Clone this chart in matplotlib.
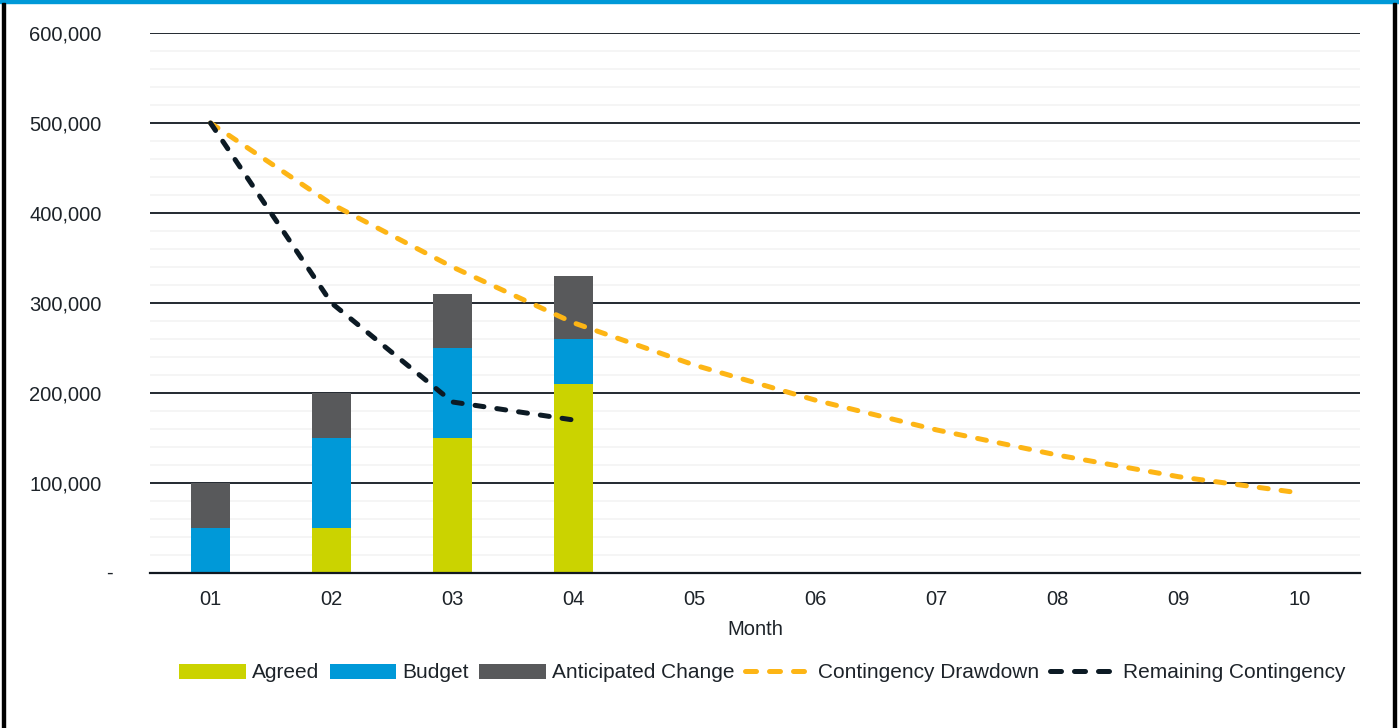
import matplotlib.pyplot as plt
import matplotlib.patches as mpatches
import matplotlib.transforms as mtransforms
from matplotlib.lines import Line2D
from matplotlib.ticker import MultipleLocator, FuncFormatter
import numpy as np

plt.rcParams['font.family'] = ['Liberation Sans', 'DejaVu Sans']

months = ['01', '02', '03', '04', '05', '06', '07', '08', '09', '10']
agreed = [0, 50000, 150000, 210000]
budget = [50000, 100000, 100000, 50000]
anticipated = [50000, 50000, 60000, 70000]
drawdown = [500000, 410000, 340000, 278000, 231000, 192000, 159000, 131000, 107000, 89000]
remaining = [500000, 300000, 190000, 170000]

c_agreed = '#cbd300'
c_budget = '#0099d8'
c_antic = '#58595b'
c_draw = '#fdb515'
c_remain = '#0c1a24'
txt = '#1d2329'

fig = plt.figure(figsize=(13.99, 7.28), dpi=100)
ax = fig.add_axes([150 / 1399, 1 - 573 / 728, 1210 / 1399, 540 / 728])

x = np.arange(len(months))
xb = x[:len(agreed)]
w = 0.32
h1 = ax.bar(xb, agreed, w, color=c_agreed, zorder=3)
h2 = ax.bar(xb, budget, w, bottom=agreed, color=c_budget, zorder=3)
bot = np.array(agreed) + np.array(budget)
h3 = ax.bar(xb, anticipated, w, bottom=bot, color=c_antic, zorder=3)

dash = (0, (1.8, 2.6))
ax.plot(x, drawdown, color=c_draw, lw=3.6, ls=dash, dash_capstyle='round', zorder=4)
ax.plot(xb, remaining, color=c_remain, lw=3.6, ls=dash, dash_capstyle='round', zorder=5)

ax.set_xlim(-0.5, 9.5)
ax.set_ylim(0, 600000)
ax.set_xticks(x)
ax.set_xticklabels(months)
ax.yaxis.set_major_locator(MultipleLocator(100000))
ax.yaxis.set_minor_locator(MultipleLocator(20000))
ax.yaxis.set_major_formatter(FuncFormatter(lambda v, p: '' if v == 0 else f'{int(v):,}'))
ax.grid(axis='y', which='major', color='#111820', lw=1.3, zorder=1)
ax.grid(axis='y', which='minor', color='#f4f4f4', lw=1.2, zorder=0)
ax.tick_params(axis='both', which='both', length=0, labelsize=14.5, colors=txt)
ax.tick_params(axis='x', pad=12)
ax.tick_params(axis='y', pad=35)
for s in ['top', 'right', 'left']:
    ax.spines[s].set_visible(False)
ax.spines['bottom'].set_color('#111820')
ax.spines['bottom'].set_linewidth(1.6)
ax.spines['bottom'].set_zorder(6)
ax.set_xlabel('Month', fontsize=14.5, color=txt, labelpad=8)

# zero label shown as a dash, sitting closer to the axis
trans = mtransforms.blended_transform_factory(ax.transAxes, ax.transData)
ax.text(-37 / 1210, 0, '-', transform=trans, ha='right', va='center', fontsize=14.5, color=txt)

leg_dash = (0, (2.2, 2.6))
lh1 = Line2D([], [], color=c_draw, lw=3.6, ls=leg_dash, dash_capstyle='round')
lh2 = Line2D([], [], color=c_remain, lw=3.6, ls=leg_dash, dash_capstyle='round')
leg = fig.legend([h1, h2, h3, lh1, lh2],
                 ['Agreed', 'Budget', 'Anticipated Change', 'Contingency Drawdown', 'Remaining Contingency'],
                 loc='center', bbox_to_anchor=(762 / 1399, 1 - 673 / 728), ncol=5,
                 frameon=False, fontsize=15, handlelength=3.2, handleheight=0.7,
                 columnspacing=0.5, handletextpad=0.3)
for t in leg.get_texts():
    t.set_color(txt)

# frame around the figure
fig.patches.append(mpatches.Rectangle((0, 1 - 3 / 728), 1, 3 / 728, transform=fig.transFigure,
                                      color='#0099d8', zorder=10))
fig.patches.append(mpatches.Rectangle((2 / 1399, 0), 3 / 1399, 1 - 3 / 728, transform=fig.transFigure,
                                      color='black', zorder=10))
fig.patches.append(mpatches.Rectangle((1393 / 1399, 0), 3 / 1399, 1 - 3 / 728, transform=fig.transFigure,
                                      color='black', zorder=10))

fig.savefig('out.png', dpi=100)
